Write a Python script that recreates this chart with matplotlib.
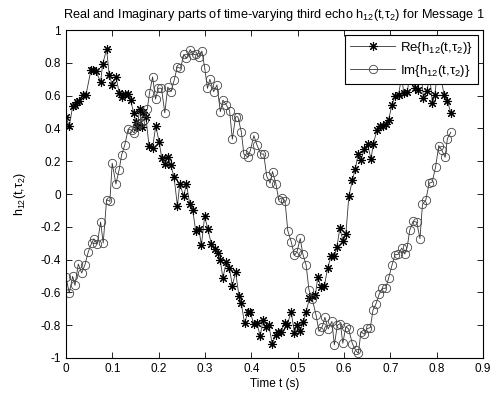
import matplotlib
matplotlib.use("Agg")
import matplotlib.pyplot as plt

plt.rcParams['font.family'] = ['Liberation Sans', 'DejaVu Sans']
plt.rcParams['mathtext.default'] = 'regular'
plt.rcParams['axes.unicode_minus'] = False

# values
t_re = [0.000, 0.0071, 0.0144, 0.0194, 0.0243, 0.0280, 0.0360, 0.0431, 0.0538, 0.0588,
        0.0646, 0.0747, 0.0790, 0.0876, 0.0932, 0.0997, 0.1077, 0.1148, 0.1212, 0.1281,
        0.1335, 0.1393, 0.1464, 0.1507, 0.1535, 0.1593, 0.1630, 0.1652, 0.1723, 0.1794,
        0.1867, 0.1938, 0.2009, 0.2067, 0.2132, 0.2203, 0.2261, 0.2332, 0.2405, 0.2455,
        0.2541, 0.2599, 0.2670, 0.2735, 0.2799, 0.2870, 0.2922, 0.2993, 0.3064, 0.3137,
        0.3208, 0.3273, 0.3327, 0.3387, 0.3460, 0.3525, 0.3590, 0.3661, 0.3732, 0.3783,
        0.3854, 0.3926, 0.3977, 0.4048, 0.4119, 0.4192, 0.4249, 0.4307, 0.4378, 0.4451,
        0.4522, 0.4571, 0.4645, 0.4716, 0.4774, 0.4860, 0.4931, 0.4981, 0.5054, 0.5125,
        0.5183, 0.5254, 0.5312, 0.5383, 0.5433, 0.5506, 0.5577, 0.5648, 0.5721, 0.5792,
        0.5846, 0.5911, 0.5980, 0.6040, 0.6105, 0.6180, 0.6245, 0.6305, 0.6367, 0.6438,
        0.6509, 0.6583, 0.6632, 0.6714, 0.6776, 0.6832, 0.6901, 0.6962, 0.7035, 0.7106,
        0.7177, 0.7246, 0.7289, 0.7364, 0.7429, 0.7494, 0.7537, 0.7590, 0.7655, 0.7715,
        0.7789, 0.7849, 0.7909, 0.7961, 0.8032, 0.8097, 0.8161, 0.8232, 0.8305]
re_vals = [0.468, 0.413, 0.535, 0.54, 0.56, 0.57, 0.605, 0.605, 0.754, 0.754,
           0.748, 0.683, 0.79, 0.884, 0.726, 0.666, 0.716, 0.617, 0.59, 0.61,
           0.61, 0.573, 0.492, 0.44, 0.41, 0.52, 0.41, 0.50, 0.47, 0.29,
           0.28, 0.415, 0.32, 0.218, 0.18, 0.228, 0.175, 0.104, -0.074, 0.061,
           -0.012, 0.061, -0.059, -0.097, -0.224, -0.216, -0.312, -0.136, -0.216, -0.307,
           -0.335, -0.358, -0.40, -0.513, -0.412, -0.45, -0.559, -0.475, -0.62, -0.666,
           -0.788, -0.72, -0.72, -0.79, -0.788, -0.866, -0.768, -0.809, -0.799, -0.915,
           -0.86, -0.84, -0.84, -0.785, -0.799, -0.718, -0.85, -0.799, -0.834, -0.779,
           -0.718, -0.636, -0.622, -0.616, -0.508, -0.57, -0.56, -0.45, -0.38, -0.378,
           -0.325, -0.208, -0.288, -0.244, -0.015, 0.083, 0.155, 0.242, 0.205, 0.275,
           0.305, 0.213, 0.305, 0.393, 0.414, 0.417, 0.427, 0.452, 0.543, 0.60,
           0.605, 0.72, 0.616, 0.62, 0.74, 0.70, 0.646, 0.636, 0.76, 0.585,
           0.626, 0.72, 0.555, 0.605, 0.78, 0.70, 0.605, 0.569, 0.494]

t_im = [0.000, 0.0071, 0.0144, 0.0194, 0.0265, 0.0338, 0.0409, 0.0480, 0.0553, 0.0603,
        0.0674, 0.0747, 0.0803, 0.0876, 0.0947, 0.0997, 0.1077, 0.1148, 0.1199, 0.1270,
        0.1342, 0.1415, 0.1471, 0.1540, 0.1604, 0.1680, 0.1755, 0.1802, 0.1869, 0.1932,
        0.1994, 0.2061, 0.2132, 0.2196, 0.2267, 0.2338, 0.2401, 0.2470, 0.2545, 0.2599,
        0.2681, 0.2741, 0.2814, 0.2870, 0.2933, 0.2993, 0.3053, 0.3105, 0.3187, 0.3258,
        0.3331, 0.3387, 0.3460, 0.3531, 0.3590, 0.3661, 0.3710, 0.3783, 0.3839, 0.3926,
        0.3977, 0.4055, 0.4124, 0.4205, 0.4268, 0.4332, 0.4404, 0.4457, 0.4529, 0.4591,
        0.4662, 0.4727, 0.4787, 0.4860, 0.4931, 0.4985, 0.5056, 0.5110, 0.5183, 0.5243,
        0.5314, 0.5394, 0.5461, 0.5534, 0.5588, 0.5659, 0.5739, 0.5792, 0.5857, 0.5922,
        0.5975, 0.6040, 0.6100, 0.6180, 0.6251, 0.6309, 0.6367, 0.6438, 0.6503, 0.6568,
        0.6626, 0.6690, 0.6761, 0.6826, 0.6901, 0.6966, 0.7035, 0.7102, 0.7171, 0.7246,
        0.7311, 0.7364, 0.7418, 0.7494, 0.7569, 0.7640, 0.7694, 0.7767, 0.7838, 0.7903,
        0.7976, 0.8045, 0.8108, 0.8183, 0.8232, 0.8305]
im_vals = [-0.508, -0.604, -0.502, -0.557, -0.427, -0.482, -0.431, -0.354, -0.299, -0.273,
           -0.305, -0.171, -0.299, -0.035, -0.045, 0.188, 0.061, 0.149, 0.237, 0.30,
           0.396, 0.39, 0.372, 0.415, 0.432, 0.452, 0.52, 0.615, 0.714, 0.579,
           0.645, 0.645, 0.495, 0.652, 0.625, 0.697, 0.775, 0.766, 0.851, 0.827,
           0.881, 0.848, 0.854, 0.837, 0.871, 0.77, 0.644, 0.70, 0.624, 0.665,
           0.502, 0.573, 0.543, 0.508, 0.334, 0.471, 0.471, 0.38, 0.244, 0.224,
           0.264, 0.356, 0.297, 0.244, 0.244, 0.109, 0.066, 0.137, 0.064, -0.034,
           -0.022, -0.042, -0.224, -0.29, -0.374, -0.353, -0.271, -0.364, -0.434, -0.584,
           -0.64, -0.735, -0.838, -0.808, -0.752, -0.823, -0.777, -0.92, -0.80, -0.79,
           -0.91, -0.81, -0.823, -0.912, -0.953, -0.972, -0.84, -0.855, -0.82, -0.815,
           -0.708, -0.67, -0.61, -0.575, -0.575, -0.51, -0.435, -0.37, -0.368, -0.33,
           -0.366, -0.325, -0.222, -0.166, -0.172, -0.272, -0.063, -0.036, 0.066, 0.072,
           0.163, 0.295, 0.269, 0.224, 0.338, 0.376]

xticks = [0, 0.1, 0.2, 0.3, 0.4, 0.5, 0.6, 0.7, 0.8, 0.9]
yticks = [-1, -0.8, -0.6, -0.4, -0.2, 0, 0.2, 0.4, 0.6, 0.8, 1]

fig = plt.figure(figsize=(4.97, 3.95), dpi=100)
ax = fig.add_axes([0.1328, 0.0937, 0.8390, 0.8303])

# matlab style '*' is an 8-spoke asterisk
ax.plot(t_re, re_vals, color='#333333', lw=0.6, marker=(8, 2, 0), ms=6.5, mec='black',
        mew=0.8, label='Re{h$_{12}$(t,τ$_2$)}')
ax.plot(t_im, im_vals, color='#333333', lw=0.6, marker='o', ms=6, mfc='none',
        mec='#444444', mew=0.6, label='Im{h$_{12}$(t,τ$_2$)}')

ax.set_xlim(0, 0.9)
ax.set_ylim(-1, 1)
ax.set_xticks(xticks)
ax.set_yticks(yticks)
ax.set_xticklabels(['0' if v == 0 else f'{v:g}' for v in xticks])
ax.set_yticklabels([f'{v:g}' for v in yticks])
ax.tick_params(direction='in', top=True, right=True, labelsize=8.5, length=4, width=0.6)
for s in ax.spines.values():
    s.set_linewidth(0.8)

ax.set_xlabel('Time t (s)', fontsize=8.5, labelpad=2)
ax.set_ylabel('h$_{12}$(t,τ$_2$)', fontsize=9, labelpad=9)
ax.set_title('Real and Imaginary parts of time-varying third echo h$_{12}$(t,τ$_2$) for Message 1',
             fontsize=9.2, pad=9)

leg = ax.legend(loc='upper right', fontsize=9.5, frameon=True, fancybox=False,
                edgecolor='black', framealpha=1, borderaxespad=0.35, handlelength=3.4,
                handletextpad=0.4, labelspacing=0.5, borderpad=0.4)
leg.get_frame().set_linewidth(0.8)

fig.savefig('out.png', dpi=100)
